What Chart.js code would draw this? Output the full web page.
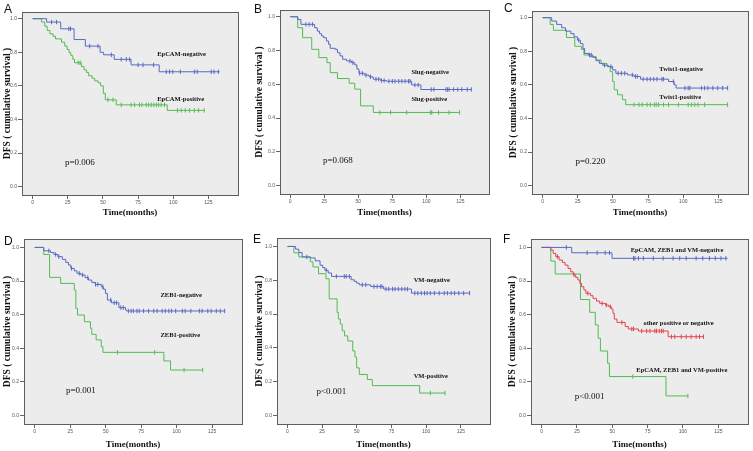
<!DOCTYPE html>
<html>
<head>
<meta charset="utf-8">
<script src="https://cdn.jsdelivr.net/npm/chart.js@4.4.0/dist/chart.umd.min.js"></script>
<style>
  html, body { margin: 0; padding: 0; background: #fff; }
  #wrap { position: relative; width: 753px; height: 451px; overflow: hidden; }
  #wrap canvas { position: absolute; }
</style>
</head>
<body>
<div id="wrap">
  <canvas id="panelA"></canvas>
  <canvas id="panelB"></canvas>
  <canvas id="panelC"></canvas>
  <canvas id="panelD"></canvas>
  <canvas id="panelE"></canvas>
  <canvas id="panelF"></canvas>
</div>
<script>
/* shared axes */
const xTicks = [0, 25, 50, 75, 100, 125];
const yTicks = [0, 0.2, 0.4, 0.6, 0.8, 1.0];

/* A - EpCAM */
const epNegT = [0, 10, 20, 29.5, 37.5, 48, 50.5, 58, 70, 90];
const epNegS = [1, 0.98, 0.94, 0.876, 0.837, 0.80, 0.785, 0.758, 0.725, 0.684];
const epNegEnd = 133;
const epNegCens = [13.5, 17, 25.8, 27, 40.6, 46.5, 56, 63, 66.6, 69, 75, 78.5, 86, 95, 97.4, 99.7, 105, 115, 117, 127, 129, 132];
const epPosT = [0, 6.4, 8.7, 10.4, 12.3, 14.6, 16.3, 20.6, 22.9, 24.6, 26, 27.2, 28.6, 29.8, 34.7, 36.6, 38.3, 39.9, 42.3, 44.2, 46.5, 48.4, 50.3, 51.7, 59.5, 95.7];
const epPosS = [1, 0.98, 0.955, 0.93, 0.91, 0.895, 0.88, 0.86, 0.837, 0.817, 0.797, 0.78, 0.758, 0.738, 0.715, 0.695, 0.68, 0.66, 0.645, 0.63, 0.618, 0.60, 0.555, 0.517, 0.487, 0.454];
const epPosEnd = 122;
const epPosCens = [32.4, 33.8, 53.6, 57.2, 63, 70, 72.5, 76, 77.7, 80.8, 82.5, 84.4, 86.2, 88, 89.6, 91.4, 93.8, 103, 105.6, 108.5, 111.5, 115, 118, 122];

/* B - Slug */
const slugNegT = [0, 5.5, 7.9, 17.9, 19.9, 21.5, 23, 24.6, 26.6, 28.2, 29.4, 33, 34.7, 36.6, 38.5, 41.4, 45, 47.4, 49, 50.5, 54.5, 58, 61, 66.5, 70.6, 89.2, 96];
const slugNegS = [1, 0.984, 0.955, 0.935, 0.915, 0.90, 0.886, 0.876, 0.856, 0.837, 0.813, 0.807, 0.787, 0.768, 0.748, 0.738, 0.728, 0.715, 0.69, 0.665, 0.654, 0.644, 0.63, 0.622, 0.618, 0.596, 0.569];
const slugNegEnd = 133;
const slugNegCens = [11.5, 13.9, 16.3, 43.8, 46, 51, 53, 55.7, 59, 63, 65, 67, 69, 72.5, 75, 77, 79.7, 82, 84.4, 86.8, 88, 91.6, 94, 103.6, 105.5, 114.4, 115.6, 116.7, 120, 123, 126, 130, 133];
const slugPosT = [0, 5.5, 9.1, 15.8, 21, 27, 29.4, 34.7, 43.3, 47.4, 51.7, 61];
const slugPosS = [1, 0.935, 0.876, 0.807, 0.758, 0.728, 0.669, 0.634, 0.606, 0.571, 0.472, 0.433];
const slugPosEnd = 124.4;
const slugPosCens = [65.8, 73.7, 85.6, 103, 104, 108.9, 116.7, 124.4];

/* C - Twist1 */
const twNegT = [0, 6.5, 10, 13.6, 16.4, 20.1, 22.4, 24.8, 26.9, 28.7, 29.9, 32.7, 35.7, 38, 40.4, 42.8, 46.7, 49.8, 52.1, 60.3, 65, 69.6, 89.5, 93.5, 94.9];
const twNegS = [1, 0.98, 0.96, 0.94, 0.92, 0.905, 0.886, 0.866, 0.846, 0.817, 0.787, 0.778, 0.764, 0.744, 0.728, 0.717, 0.709, 0.689, 0.669, 0.659, 0.65, 0.634, 0.62, 0.60, 0.581];
const twNegEnd = 131.5;
const twNegCens = [25.7, 33.4, 34.6, 44, 48.6, 53.7, 56, 58.4, 63.8, 66, 67.3, 71.5, 74.3, 76.6, 79, 81.3, 84.8, 86, 93, 101.2, 103.5, 104.7, 112.9, 115.2, 117.5, 121, 124.5, 128, 131.5];
const twPosT = [0, 5.4, 7.7, 17, 22.9, 27.6, 29.4, 33.4, 38.1, 41.6, 45.8, 48.1, 49.8, 50.9, 53.3, 56.8, 59.1];
const twPosS = [1, 0.96, 0.925, 0.882, 0.83, 0.811, 0.778, 0.768, 0.748, 0.728, 0.709, 0.679, 0.62, 0.571, 0.541, 0.512, 0.482];
const twPosEnd = 131.5;
const twPosCens = [65, 68.5, 70.8, 74.3, 76.6, 79.4, 80.8, 82.5, 86, 89.5, 96.5, 103.5, 105.8, 108.2, 110.5, 115.2, 131.5];

/* D - ZEB1 */
const zebNegT = [0, 6.4, 11.2, 13.6, 16.4, 19.5, 21.9, 23.8, 25.5, 27.9, 29.8, 32.6, 35.5, 37.9, 40.2, 42.6, 46.9, 48.3, 49.8, 51.2, 54, 59.3, 64, 64.8];
const zebNegS = [1, 0.98, 0.97, 0.958, 0.945, 0.929, 0.911, 0.895, 0.875, 0.861, 0.846, 0.836, 0.82, 0.806, 0.792, 0.78, 0.766, 0.752, 0.727, 0.687, 0.671, 0.642, 0.628, 0.622];
const zebNegEnd = 133.8;
const zebNegCens = [10, 14.8, 17, 26, 31.4, 33.8, 37.4, 42.9, 44.5, 48, 53.6, 56, 57.6, 60.7, 62.4, 66, 67.9, 69.5, 72, 73.6, 76.7, 80.2, 83.8, 86.2, 89.8, 92, 94.5, 96.4, 99.3, 104, 106, 110, 116, 117.9, 121.9, 124.3, 127.9, 130.7, 133.8];
const zebPosT = [0, 6.4, 10.5, 18.3, 27.9, 29, 30.2, 35, 39.3, 40.2, 43.3, 46.9, 48.1, 91, 95.7];
const zebPosS = [1, 0.958, 0.822, 0.786, 0.747, 0.638, 0.598, 0.558, 0.519, 0.483, 0.45, 0.41, 0.376, 0.325, 0.271];
const zebPosEnd = 118.3;
const zebPosCens = [58.3, 84.5, 105.2, 118.3];

/* E - VM */
const vmNegT = [0, 5.9, 8.2, 10.6, 16.5, 20, 23.5, 25.4, 27, 29.4, 31.8, 45.9, 48.2, 49.9, 51.8, 60, 69.4, 89.4];
const vmNegS = [1, 0.984, 0.964, 0.938, 0.932, 0.915, 0.889, 0.875, 0.859, 0.843, 0.823, 0.803, 0.793, 0.783, 0.773, 0.763, 0.748, 0.724];
const vmNegEnd = 131.3;
const vmNegCens = [14, 28, 35.3, 41, 42.4, 44.7, 54, 56.5, 62.4, 64.7, 67, 68.2, 71, 73, 75.8, 77.6, 80, 82.4, 84.7, 86.6, 91.8, 94, 96.5, 98.8, 100.7, 103, 105.9, 109.4, 113, 115.3, 118, 120.5, 123.5, 127, 131.3];
const vmPosT = [0, 4.7, 8.2, 16.5, 18.4, 22.4, 27.8, 30.1, 35.8, 36.7, 38.1, 39.5, 41.2, 43.5, 47.1, 48.7, 49.9, 51.8, 57.6, 61.2, 95.3];
const vmPosS = [1, 0.962, 0.938, 0.909, 0.879, 0.839, 0.809, 0.69, 0.61, 0.571, 0.541, 0.501, 0.471, 0.441, 0.382, 0.346, 0.282, 0.243, 0.213, 0.177, 0.133];
const vmPosEnd = 113.6;
const vmPosCens = [103, 113.6];

/* F - combined */
const triNegT = [0, 21.3, 49.8];
const triNegS = [1, 0.968, 0.935];
const triNegEnd = 131.5;
const triNegCens = [17.5, 32.2, 39.3, 45, 48, 65, 66, 68.5, 72, 79, 86, 93, 97.7, 102.3, 109.3, 114, 118.7, 122.9, 126.9, 130.4];
const otherT = [0, 6.5, 8.2, 10, 12.4, 14.7, 16.6, 18.7, 20.6, 22.4, 24.1, 25.7, 27.1, 28.3, 29.9, 31.3, 34.6, 36.4, 38.8, 41.1, 45.1, 47.4, 49.3, 50.5, 51.4, 53.3, 59.1, 61.4, 68.5, 89.5];
const otherS = [1, 0.984, 0.964, 0.945, 0.925, 0.911, 0.895, 0.875, 0.855, 0.836, 0.822, 0.806, 0.786, 0.766, 0.747, 0.727, 0.713, 0.697, 0.681, 0.667, 0.657, 0.648, 0.634, 0.608, 0.574, 0.554, 0.529, 0.515, 0.503, 0.469];
const otherEnd = 114.5;
const otherCens = [11.2, 22.9, 32.7, 42.8, 45.8, 48.6, 56.8, 63.8, 65, 70.8, 74.3, 76.6, 80.1, 81.3, 83.2, 84.8, 86, 91.8, 94.2, 98.8, 102.3, 105.8, 109.3, 111.7, 114.5];
const triPosT = [0, 6.5, 9.6, 27.5, 34, 38, 40, 41.6, 46.7, 48, 88];
const triPosS = [1, 0.919, 0.842, 0.69, 0.614, 0.539, 0.46, 0.384, 0.311, 0.232, 0.117];
const triPosEnd = 103.5;
const triPosCens = [64.5, 103.5];

const BLUE = '#5868c4';
const GREEN = '#52bc52';
const RED = '#e2444c';
const labelFont = 'bold 6.5px "Liberation Serif", "Times New Roman", serif';
const pFont = '9px "Liberation Serif", "Times New Roman", serif';

Chart.defaults.font.family = '"Liberation Sans", Arial, sans-serif';

function kmLine(T, S, end) {
    const pts = T.map((t, i) => ({ x: t, y: S[i] }));
    pts.push({ x: end, y: S[S.length - 1] });
    return pts;
}

// value of the step curve at time t
function survAt(T, S, t) {
    let v = S[0];
    for (let i = 0; i < T.length; i++) {
        if (T[i] <= t) v = S[i];
    }
    return v;
}

function censorPts(T, S, C) {
    return C.map(t => ({ x: t, y: survAt(T, S, t) }));
}

const panels = [
    {
        id: 'panelA', cell: [0, 0, 250, 225], box: [22, 12, 238, 195], titleX: 7, titleY: 213, yMax: 1.04,
        letter: 'A', letterAt: [4, 12.5],
        series: [
            { T: epNegT, S: epNegS, end: epNegEnd, cens: epNegCens, color: BLUE },
            { T: epPosT, S: epPosS, end: epPosEnd, cens: epPosCens, color: GREEN }
        ],
        notes: [
            { text: 'EpCAM-negative', x: 88.6, y: 0.788, font: labelFont },
            { text: 'EpCAM-positive', x: 88.6, y: 0.52, font: labelFont },
            { text: 'p=0.006', x: 23, y: 0.143, font: pFont }
        ]
    },
    {
        id: 'panelB', cell: [250, 0, 250, 225], box: [280, 10, 489, 194], titleX: 260, titleY: 213, yMax: 1.04,
        letter: 'B', letterAt: [254, 12.7],
        series: [
            { T: slugNegT, S: slugNegS, end: slugNegEnd, cens: slugNegCens, color: BLUE },
            { T: slugPosT, S: slugPosS, end: slugPosEnd, cens: slugPosCens, color: GREEN }
        ],
        notes: [
            { text: 'Slug-negative', x: 89, y: 0.67, font: labelFont },
            { text: 'Slug-positive', x: 89, y: 0.51, font: labelFont },
            { text: 'p=0.068', x: 24, y: 0.148, font: pFont }
        ]
    },
    {
        id: 'panelC', cell: [500, 0, 253, 225], box: [532, 11, 750, 194], titleX: 513.5, titleY: 213, yMax: 1.04,
        letter: 'C', letterAt: [504, 12],
        series: [
            { T: twNegT, S: twNegS, end: twNegEnd, cens: twNegCens, color: BLUE },
            { T: twPosT, S: twPosS, end: twPosEnd, cens: twPosCens, color: GREEN }
        ],
        notes: [
            { text: 'Twist1-negative', x: 83, y: 0.69, font: labelFont },
            { text: 'Twist1-positive', x: 83, y: 0.527, font: labelFont },
            { text: 'p=0.220', x: 23.4, y: 0.142, font: pFont }
        ]
    },
    {
        id: 'panelD', cell: [0, 225, 250, 226], box: [24, 239, 242, 424], titleX: 6.7, titleY: 445, yMax: 1.05,
        letter: 'D', letterAt: [4, 245],
        series: [
            { T: zebNegT, S: zebNegS, end: zebNegEnd, cens: zebNegCens, color: BLUE },
            { T: zebPosT, S: zebPosS, end: zebPosEnd, cens: zebPosCens, color: GREEN }
        ],
        notes: [
            { text: 'ZEB1-negative', x: 88.6, y: 0.717, font: labelFont },
            { text: 'ZEB1-positive', x: 88.6, y: 0.48, font: labelFont },
            { text: 'p=0.001', x: 22, y: 0.147, font: pFont }
        ]
    },
    {
        id: 'panelE', cell: [250, 225, 250, 226], box: [277, 238, 490, 424], titleX: 260, titleY: 445, yMax: 1.05,
        letter: 'E', letterAt: [253, 243.3],
        series: [
            { T: vmNegT, S: vmNegS, end: vmNegEnd, cens: vmNegCens, color: BLUE },
            { T: vmPosT, S: vmPosS, end: vmPosEnd, cens: vmPosCens, color: GREEN }
        ],
        notes: [
            { text: 'VM-negative', x: 91, y: 0.80, font: labelFont },
            { text: 'VM-positive', x: 91, y: 0.233, font: labelFont },
            { text: 'p<0.001', x: 21, y: 0.143, font: pFont }
        ]
    },
    {
        id: 'panelF', cell: [500, 225, 253, 226], box: [531, 239, 749, 424], titleX: 513, titleY: 445, yMax: 1.05,
        letter: 'F', letterAt: [503, 243.3],
        series: [
            { T: triNegT, S: triNegS, end: triNegEnd, cens: triNegCens, color: BLUE },
            { T: otherT, S: otherS, end: otherEnd, cens: otherCens, color: RED },
            { T: triPosT, S: triPosS, end: triPosEnd, cens: triPosCens, color: GREEN }
        ],
        notes: [
            { text: 'EpCAM, ZEB1 and VM-negative', x: 63, y: 0.984, font: labelFont },
            { text: 'other positive or negative', x: 72, y: 0.548, font: labelFont },
            { text: 'EpCAM, ZEB1 and VM-positive', x: 67, y: 0.27, font: labelFont },
            { text: 'p<0.001', x: 23.4, y: 0.11, font: pFont }
        ]
    }
];

/* grey plot box, frame, panel letter and curve labels */
function decor(p) {
    return {
        id: 'decor_' + p.id,
        beforeDraw(chart) {
            const { ctx, chartArea: a } = chart;
            ctx.save();
            ctx.fillStyle = '#ececec';
            ctx.fillRect(a.left, a.top, a.right - a.left, a.bottom - a.top);
            ctx.restore();
        },
        afterDraw(chart) {
            const { ctx, chartArea: a, scales } = chart;
            ctx.save();
            ctx.strokeStyle = '#5e5e5e';
            ctx.lineWidth = 1;
            ctx.strokeRect(Math.round(a.left) + 0.5, Math.round(a.top) + 0.5,
                Math.round(a.right - a.left), Math.round(a.bottom - a.top));
            ctx.fillStyle = '#111';
            ctx.textAlign = 'left';
            ctx.textBaseline = 'alphabetic';
            ctx.font = '12px "Liberation Sans", Arial, sans-serif';
            ctx.fillText(p.letter, p.letterAt[0] - p.cell[0], p.letterAt[1] - p.cell[1]);
            ctx.textBaseline = 'middle';
            p.notes.forEach(n => {
                ctx.font = n.font;
                ctx.fillText(n.text, scales.x.getPixelForValue(n.x), scales.y.getPixelForValue(n.y));
            });
            ctx.restore();
        }
    };
}

function makePanel(p) {
    // place the plot box where it sits in the figure
    const padL = Math.max(0, p.titleX - p.cell[0] - 7.2);
    const yW = p.box[0] - p.cell[0] - padL;
    const padT = p.box[1] - p.cell[1];
    const padR = p.cell[0] + p.cell[2] - p.box[2];
    const padB = Math.max(0, p.cell[1] + p.cell[3] - (p.titleY + 5.4));
    const xH = p.cell[1] + p.cell[3] - padB - p.box[3];

    const canvas = document.getElementById(p.id);
    canvas.width = p.cell[2];
    canvas.height = p.cell[3];
    canvas.style.left = p.cell[0] + 'px';
    canvas.style.top = p.cell[1] + 'px';

    const datasets = [];
    p.series.forEach(s => {
        datasets.push({
            data: kmLine(s.T, s.S, s.end),
            showLine: true,
            stepped: 'before',
            borderColor: s.color,
            borderWidth: 1,
            pointRadius: 0,
            pointHoverRadius: 0,
            fill: false
        });
        datasets.push({
            data: censorPts(s.T, s.S, s.cens),
            showLine: false,
            pointStyle: 'line',
            pointRotation: 90,
            pointRadius: 2.2,
            pointBorderWidth: 1,
            pointBorderColor: s.color,
            borderColor: s.color
        });
    });

    const tickGrid = { drawOnChartArea: false, drawTicks: true, tickLength: 4, color: '#666', lineWidth: 1 };
    const tickFont = { size: 5, family: '"Liberation Sans", Arial, sans-serif' };

    new Chart(canvas, {
        type: 'scatter',
        data: { datasets },
        options: {
            responsive: false,
            animation: false,
            devicePixelRatio: 1,
            events: [],
            layout: { padding: { left: padL, top: padT, right: padR, bottom: padB } },
            plugins: { legend: { display: false }, tooltip: { enabled: false } },
            scales: {
                x: {
                    type: 'linear',
                    min: -7.5,
                    max: 146,
                    afterBuildTicks: sc => { sc.ticks = xTicks.map(v => ({ value: v })); },
                    afterFit: sc => { sc.height = xH; },
                    grid: tickGrid,
                    border: { display: false },
                    ticks: { font: tickFont, color: '#555', padding: 1, maxRotation: 0, autoSkip: false },
                    title: {
                        display: true,
                        text: 'Time(months)',
                        color: '#111',
                        font: { family: '"Liberation Serif", "Times New Roman", serif', size: 9, weight: 'bold' },
                        padding: { top: 0, bottom: 0 }
                    }
                },
                y: {
                    type: 'linear',
                    min: -0.05,
                    max: p.yMax,
                    afterBuildTicks: sc => { sc.ticks = yTicks.map(v => ({ value: v })); },
                    afterFit: sc => { sc.width = yW; },
                    grid: tickGrid,
                    border: { display: false },
                    ticks: { font: tickFont, color: '#555', padding: 1, autoSkip: false, callback: v => Number(v).toFixed(1) },
                    title: {
                        display: true,
                        text: 'DFS ( cumulative survival )',
                        color: '#111',
                        font: { family: '"Liberation Serif", "Times New Roman", serif', size: 9.5, weight: 'bold' },
                        padding: { top: 1.5, bottom: 0 }
                    }
                }
            }
        },
        plugins: [decor(p)]
    });
}

panels.forEach(makePanel);
</script>
</body>
</html>
